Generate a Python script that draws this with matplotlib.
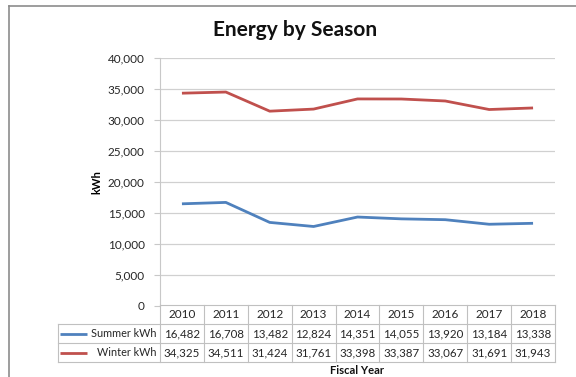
import matplotlib
matplotlib.use("Agg")
import matplotlib.pyplot as plt
from matplotlib.lines import Line2D

plt.rcParams['font.family'] = ['Lato', 'DejaVu Sans']

# Datos
years = ["2010", "2011", "2012", "2013", "2014", "2015", "2016", "2017", "2018"]
summer_kwh = [16482, 16708, 13482, 12824, 14351, 14055, 13920, 13184, 13338]
winter_kwh = [34325, 34511, 31424, 31761, 33398, 33387, 33067, 31691, 31943]
series_names = ["Summer kWh", "Winter kWh"]
series_colors = ["#4F81BD", "#C0504D"]
yticks = [0, 5000, 10000, 15000, 20000, 25000, 30000, 35000, 40000]

W, H = 576, 377
fig = plt.figure(figsize=(W / 100, H / 100), dpi=100)

def px_box(x0, y0, x1, y1):
    # caja en pixeles (origen arriba-izquierda) -> fracciones de figura
    return [x0 / W, 1 - y1 / H, (x1 - x0) / W, (y1 - y0) / H]

# Marco exterior del grafico (solo izquierda y arriba visibles)
fig.add_artist(Line2D([8.5 / W, 8.5 / W], [0, 1 - 6 / H], transform=fig.transFigure,
                      color="#8C8C8C", lw=1.2))
fig.add_artist(Line2D([8.5 / W, 1], [1 - 6 / H, 1 - 6 / H], transform=fig.transFigure,
                      color="#8C8C8C", lw=1.2))

# Grafico principal
ax = fig.add_axes(px_box(160, 58, 555, 306))
x = list(range(len(years)))
for vals, name, col in zip([summer_kwh, winter_kwh], series_names, series_colors):
    ax.plot(x, vals, color=col, lw=2.0, solid_capstyle="butt", label=name)

ax.set_xlim(-0.5, len(years) - 0.5)
ax.set_ylim(0, 40000)
ax.set_yticks(yticks)
ax.set_yticklabels([f"{v:,}" for v in yticks], fontsize=8.5, color="#262626")
ax.set_xticks([])
ax.yaxis.grid(True, color="#D0D0D0", lw=0.9)
ax.set_axisbelow(True)
for s in ["top", "right", "bottom"]:
    ax.spines[s].set_visible(False)
ax.spines["left"].set_color("#C8C8C8")
ax.tick_params(axis="y", length=4, color="#C8C8C8", pad=7)
ax.set_ylabel("kWh", fontsize=8, fontweight="bold", labelpad=4)

fig.text(295 / W, 1 - 30 / H, "Energy by Season", ha="center", va="center",
         fontsize=15, fontweight="bold", color="#111111")

# Tabla de datos
tax = fig.add_axes(px_box(160, 305, 555, 362))
tax.set_xlim(-0.5, len(years) - 0.5)
tax.set_ylim(3, 0)
tax.axis("off")
grid_col = "#C0C0C0"
col_w = 395 / len(years)
left_x = -0.5 - (160 - 58) / col_w
# lineas horizontales
for r in range(4):
    x0 = -0.5 if r == 0 else left_x
    tax.plot([x0, len(years) - 0.5], [r, r], color=grid_col, lw=0.8, clip_on=False)
# lineas verticales
for c in range(len(years) + 1):
    tax.plot([c - 0.5, c - 0.5], [0, 3], color=grid_col, lw=0.8, clip_on=False)
tax.plot([left_x, left_x], [1, 3], color=grid_col, lw=0.8, clip_on=False)

for i, yr in enumerate(years):
    tax.text(i, 0.5, yr, ha="center", va="center", fontsize=8.5, color="#262626")
for r, (vals, name, col) in enumerate(zip([summer_kwh, winter_kwh], series_names, series_colors), start=1):
    for i, v in enumerate(vals):
        tax.text(i, r + 0.5, f"{v:,}", ha="center", va="center", fontsize=8.3, color="#262626")
    tax.plot([left_x + 0.05, left_x + 0.66], [r + 0.5, r + 0.5], color=col, lw=2.0,
             clip_on=False, solid_capstyle="butt")
    tax.text(-0.57, r + 0.5, name, ha="right", va="center", fontsize=7.8, color="#262626")

fig.text(357 / W, 1 - 370 / H, "Fiscal Year", ha="center", va="center",
         fontsize=8, fontweight="bold", color="#111111")

fig.savefig("out.png", dpi=100)
